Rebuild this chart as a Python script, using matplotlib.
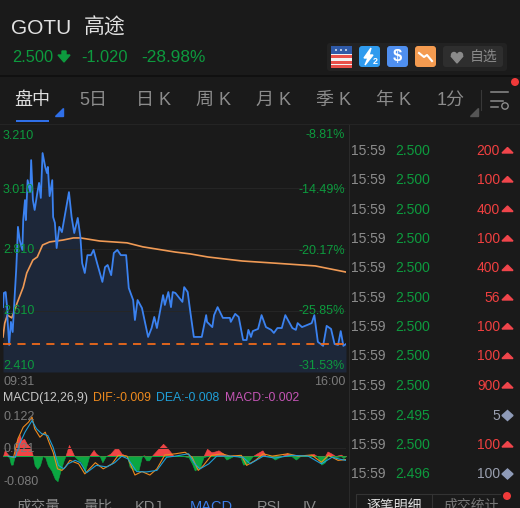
import numpy as np
import matplotlib
matplotlib.use("Agg")
import matplotlib.pyplot as plt
from matplotlib.patches import Rectangle, FancyBboxPatch, Polygon, Circle

# minutes since open, price
price_t = [0,1,3,5,5,7,9,11,13,15,16,17,19,22,23,25,26,28,31,32,34,36,39,41,43,45,48,50,51,53,56,57,59,61,64,67,70,75,78,81,85,88,90,93,96,100,103,107,113,116,119,123,126,130,134,140,143,148,150,153,158,165,169,172,175,182,184,188,191,193,196,204,206,210,213,217,226,231,232,238,240,244,250,258,259,264,268,273,277,279,282,284,290,294,299,305,308,312,317,321,324,329,333,335,340,346,351,354,358,364,368,373,377,381,384,387,390]
price = [2.621,2.667,2.670,2.612,2.589,2.498,2.573,2.540,2.644,2.742,2.807,2.882,2.839,2.807,2.904,2.969,2.904,3.034,2.995,3.099,2.969,2.937,2.992,3.025,2.976,3.122,3.077,3.057,3.077,2.982,3.034,2.914,2.895,2.813,2.882,2.865,2.914,2.995,2.914,2.862,2.911,2.849,2.764,2.732,2.790,2.790,2.807,2.764,2.703,2.751,2.758,2.725,2.797,2.807,2.790,2.790,2.683,2.644,2.579,2.644,2.618,2.524,2.553,2.589,2.553,2.660,2.628,2.670,2.621,2.670,2.667,2.638,2.686,2.670,2.605,2.524,2.524,2.595,2.573,2.556,2.595,2.621,2.586,2.586,2.573,2.599,2.589,2.514,2.514,2.547,2.524,2.543,2.550,2.595,2.556,2.547,2.537,2.553,2.553,2.595,2.579,2.553,2.547,2.569,2.556,2.563,2.569,2.595,2.508,2.495,2.560,2.550,2.501,2.498,2.543,2.495,2.501]
avg_t = [0,2,5,10,16,23,27,34,39,45,53,68,80,88,110,141,159,196,213,233,272,309,355,390]
avg = [2.524,2.569,2.595,2.586,2.634,2.686,2.732,2.774,2.784,2.823,2.833,2.839,2.846,2.846,2.836,2.830,2.817,2.800,2.794,2.784,2.771,2.764,2.755,2.735]
prev_level = 2.5
price_ticks = ["3.210","3.010","2.810","2.610","2.410"]
pct_ticks = ["-8.81%","-14.49%","-20.17%","-25.85%","-31.53%"]

hist_t = [0,2,5,7,9,11,13,15,19,21,24,27,31,34,36,39,42,45,48,51,55,59,62,65,69,71,75,78,81,86,89,93,96,98,103,106,110,113,117,122,127,131,135,141,144,148,154,158,160,163,166,169,175,182,186,190,194,205,211,215,218,224,228,232,237,241,245,251,254,262,266,270,273,277,284,288,295,299,304,309,317,323,328,333,338,345,353,357,362,366,369,374,378,384,387,390]
hist = [0,.015,.006,-.003,-.022,-.022,-.003,.036,.055,.041,.045,.032,.023,0,-.024,-.033,-.024,0,-.003,-.024,-.037,-.059,-.065,-.041,-.011,0,.029,.015,0,-.011,-.016,-.040,-.016,0,.016,.006,0,-.016,0,.006,.019,.019,.006,0,-.028,-.035,-.037,0,.002,-.011,-.011,0,.015,.032,.023,.012,0,0,-.003,-.020,-.037,-.028,-.003,.019,.010,.012,.015,.006,-.009,.002,0,-.003,-.022,-.020,0,.006,.015,0,0,-.009,0,.008,0,-.009,0,0,.006,0,-.022,-.016,.012,.006,-.003,.004,-.005,0]
dif_t = [6,12,17,23,29,33,36,42,48,53,57,62,67,71,76,86,93,105,114,124,131,141,150,158,167,175,184,196,207,215,222,228,237,249,258,271,277,287,296,306,324,336,351,362,370,381,390]
dif = [0,-.003,.045,.075,.088,.101,.071,.049,.062,.032,.010,-.033,-.037,-.028,-.011,-.020,-.046,-.017,-.033,-.020,.002,0,-.049,-.040,-.049,-.033,.003,.006,.010,-.003,-.037,-.024,.002,.006,0,.002,-.024,-.011,.006,0,.006,0,.003,-.016,.002,-.011,-.009]
dea_t = [6,14,19,25,33,38,44,51,57,63,69,74,82,88,95,106,118,127,135,142,152,163,175,186,196,211,218,224,234,243,258,273,281,296,309,328,347,362,374,385,390]
dea = [0,-.003,.032,.062,.092,.071,.058,.053,.023,-.024,-.033,-.020,-.011,-.017,-.043,-.024,-.028,-.017,0,-.007,-.040,-.041,-.037,-.003,0,.006,-.020,-.033,-.020,0,0,-.003,-.020,0,-.005,.002,0,-.020,-.003,-.009,-.011]
macd_ticks = ["0.122","0.021","-0.080"]

trade_price = ["2.500"]*9 + ["2.495","2.500","2.496"]
trade_vol = ["200","100","400","100","400","56","100","100","900","5","100","100"]
trade_dir = ["u"]*9 + ["n","u","n"]
tabs = ["盘中","5日","日 K","周 K","月 K","季 K","年 K","1分"]
tab_x = [32,93,153,213,273,333,393,451]

BG = "#1a1a1a"
GREEN = "#0d9a3e"
RED = "#f04040"
GREY = "#8a8a8a"
W, H = 520, 508
plt.rcParams["font.family"] = ["Liberation Sans", "Noto Sans CJK SC"]

fig = plt.figure(figsize=(5.2, 5.08), dpi=100, facecolor=BG)
ui = fig.add_axes([0, 0, 1, 1], zorder=5)
ui.set_xlim(0, W)
ui.set_ylim(H, 0)
ui.axis("off")
ui.patch.set_alpha(0)


def tx(x, y, s, size=10, c=GREY, ha="left", **kw):
    ui.text(x, y, s, fontsize=size, color=c, ha=ha, va="center", **kw)


def px_axes(x0, y0, x1, y1):
    return fig.add_axes([x0 / W, 1 - y1 / H, (x1 - x0) / W, (y1 - y0) / H])


# price panel
ax = px_axes(3, 126, 346, 372)
ax.set_facecolor(BG)
ax.fill_between(price_t, price, 2.41, color="#1d2739", lw=0)
for v in [3.01, 2.81, 2.61]:
    ax.axhline(v, color="#262626", lw=0.7)
ax.plot(avg_t, avg, color="#f09a55", lw=1.2)
ax.plot(price_t, price, color="#3b82f0", lw=1.3)
ax.axhline(prev_level, color="#ef6a1a", lw=1.3, dashes=(4.5, 3.5))
ax.set_xlim(0, 390)
ax.set_ylim(2.41, 3.21)
ax.axis("off")

# macd panel
mx = px_axes(3, 409, 346, 487)
mx.set_facecolor(BG)
mx.axhline(0.021, color="#262626", lw=0.7)
hist_arr = np.array(hist)
mx.fill_between(hist_t, np.clip(hist_arr, 0, None), 0, color="#f04545", lw=0.4, edgecolor="#f04545")
mx.fill_between(hist_t, np.clip(hist_arr, None, 0), 0, color="#0ba642", lw=0.4, edgecolor="#0ba642")
mx.plot(dif_t, dif, color="#ee8a1e", lw=0.8)
mx.plot(dea_t, dea, color="#1f9fd8", lw=0.8)
mx.set_xlim(0, 390)
mx.set_ylim(-0.080, 0.122)
mx.axis("off")

# header
tx(11, 28, "GOTU", 15, "#e2e2e2")
tx(84, 28, "高途", 15, "#e2e2e2")
tx(12, 57, "2.500", 11.8, GREEN)
ui.add_patch(Polygon([(58, 55), (64, 62), (70, 55), (66, 55), (66, 51), (62, 51), (62, 55)], color=GREEN))
tx(81, 57, "-1.020", 11.8, GREEN)
tx(141, 57, "-28.98%", 12.4, GREEN)

ui.add_patch(FancyBboxPatch((327, 43), 180, 28, boxstyle="round,pad=0,rounding_size=3", fc="#222222", ec="none"))
ui.add_patch(Rectangle((331, 46), 21, 21, fc="#f2f2f2", ec="none"))
for yy in [49, 55, 61, 65]:
    ui.add_patch(Rectangle((331, yy), 21, 2.5, fc="#e8504a", ec="none"))
ui.add_patch(Rectangle((331, 46), 21, 8, fc="#2f5aa8", ec="none"))
for xx in [336, 341, 346]:
    ui.add_patch(Circle((xx, 50), 0.9, fc="white", ec="none"))
ui.add_patch(FancyBboxPatch((359, 46), 21, 21, boxstyle="round,pad=0,rounding_size=3", fc="#2f9bee", ec="none"))
ui.add_patch(Polygon([(371, 48), (364, 58), (368, 58), (365, 65), (373, 55), (369, 55)], color="white"))
tx(373, 62, "2", 6.5, "white", weight="bold")
ui.add_patch(FancyBboxPatch((387, 46), 21, 21, boxstyle="round,pad=0,rounding_size=3", fc="#4f8fef", ec="none"))
tx(397.5, 56.5, r"\$", 12, "white", ha="center", weight="bold")
ui.add_patch(FancyBboxPatch((415, 46), 21, 21, boxstyle="round,pad=0,rounding_size=3", fc="#f49b50", ec="none"))
ui.plot([419, 424, 427, 432], [53, 57, 55, 61], color="white", lw=1.5)
ui.add_patch(FancyBboxPatch((443, 46), 60, 21, boxstyle="round,pad=0,rounding_size=3", fc="#2e2e2e", ec="none"))
ui.add_patch(Circle((454, 55), 3.2, fc="#8a8a8a", ec="none"))
ui.add_patch(Circle((460, 55), 3.2, fc="#8a8a8a", ec="none"))
ui.add_patch(Polygon([(451, 56), (463, 56), (457, 63)], color="#8a8a8a"))
tx(470, 56.5, "自选", 10, "#8a8a8a")

ui.plot([0, W], [76, 76], color="#0e0e0e", lw=1.2)
ui.plot([0, W], [124, 124], color="#242424", lw=0.8)
ui.plot([348.5, 348.5], [125, H], color="#2a2a2a", lw=0.8)

# tab row
for i, (t, x) in enumerate(zip(tabs, tab_x)):
    tx(x, 100, t, 13, "#dedede" if i == 0 else "#8c8c8c", ha="center")
ui.add_patch(Rectangle((16, 120), 33, 2, fc="#2f6fe8", ec="none"))
ui.add_patch(Polygon([(55, 116), (63, 116), (63, 108)], color="#2f6fe8"))
ui.add_patch(Polygon([(470, 116), (478, 116), (478, 108)], color="#555555"))
ui.plot([481, 481], [90, 110], color="#383838", lw=0.8)
for yy, xa, xb in [(92, 491, 508), (101, 491, 503), (107, 491, 498)]:
    ui.plot([xa, xb], [yy, yy], color="#8c8c8c", lw=1.1)
ui.add_patch(Circle((505, 106), 3.2, fc="none", ec="#8c8c8c", lw=1))
ui.add_patch(Circle((515, 82), 4, fc="#f03a3a", ec="none"))

# price axis labels
for s, y in zip(price_ticks, [136, 190, 250, 311, 366]):
    tx(3, y, s, 9, GREEN)
for s, y in zip(pct_ticks, [135, 190, 251, 311, 366]):
    tx(345, y, s, 9, GREEN, ha="right")
tx(3, 382, "09:31", 9, "#7a7a7a")
tx(345, 382, "16:00", 9, "#7a7a7a", ha="right")

# macd labels
tx(3, 398, "MACD(12,26,9)", 8.8, "#c8c8c8")
tx(93, 398, "DIF:-0.009", 8.8, "#ee8a1e")
tx(156, 398, "DEA:-0.008", 8.8, "#1f9fd8")
tx(225, 398, "MACD:-0.002", 8.8, "#c455b5")
for s, y in zip(macd_ticks, [417, 449, 482]):
    tx(3, y, s, 9, "#7a7a7a")

# bottom tabs, cut by the edge of the image
for s, x, c in [("成交量", 38, "#8a8a8a"), ("量比", 98, "#8a8a8a"), ("KDJ", 149, "#8a8a8a"),
                ("MACD", 211, "#3b7de8"), ("RSI", 269, "#8a8a8a"), ("IV", 310, "#8a8a8a")]:
    tx(x, 507, s, 10.5, c, ha="center")

# trades list
row_y = [151, 180, 209.5, 239, 268.5, 298, 327, 356.5, 386, 415.5, 445, 474]
for y, p, v, d in zip(row_y, trade_price, trade_vol, trade_dir):
    tx(351, y, "15:59", 10, "#8c8c8c")
    tx(395, y, p, 10, GREEN)
    if d == "u":
        tx(500, y, v, 10, RED, ha="right")
        ui.add_patch(Polygon([(502, y + 2), (513, y + 2), (507.5, y - 3.5)], color="#f0454b"))
    else:
        tx(500, y, v, 10, "#9aa0b0", ha="right")
        ui.add_patch(Polygon([(502, y), (507.5, y - 5), (513, y), (507.5, y + 5)], color="#8f9bb8"))

ui.plot([356, 356, 500], [H, 494, 494], color="#333333", lw=0.8)
ui.plot([432, 432], [494, H], color="#333333", lw=0.8)
tx(394, 506, "逐笔明细", 10, "#e0e0e0", ha="center")
tx(471, 506, "成交统计", 10, "#777777", ha="center")
ui.add_patch(Circle((507, 496), 4, fc="#f03a3a", ec="none"))

fig.savefig("out.png", dpi=100, facecolor=BG)
